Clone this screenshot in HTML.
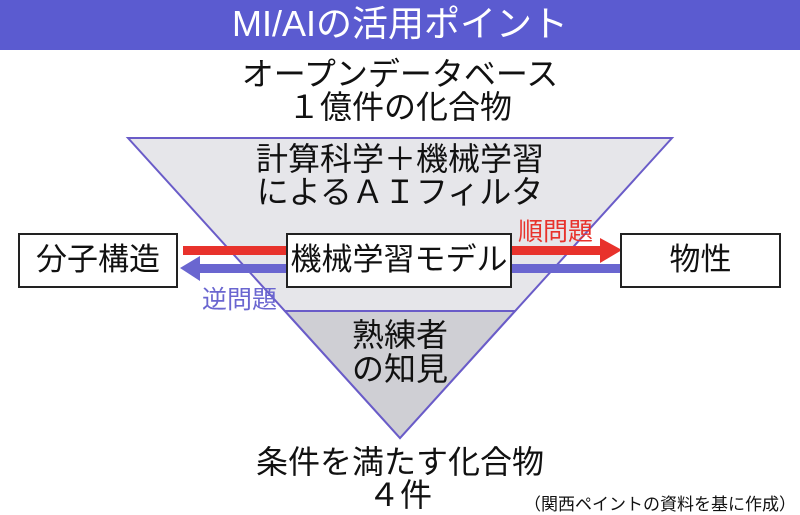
<!DOCTYPE html>
<html><head><meta charset="utf-8"><style>
body{margin:0;width:800px;height:515px;overflow:hidden;background:#fff;position:relative;font-family:"Liberation Sans","Noto Sans CJK JP",sans-serif;}
.t{position:absolute;left:0;width:800px;text-align:center;color:#111;font-size:32px;line-height:34px;}
.box{position:absolute;border:2px solid #222;background:#fff;box-sizing:border-box;text-align:center;font-size:31px;line-height:50px;color:#111;}
</style></head><body>
<div style="position:absolute;left:0;top:0;width:800px;height:50px;background:#5b5bd0;color:#fff;font-size:36px;line-height:48px;text-align:center;">MI/AIの活用ポイント</div>
<svg width="800" height="515" style="position:absolute;left:0;top:0">
<polygon points="128,138 672,138 400,438" fill="#e6e6ea" stroke="#6a5cc8" stroke-width="2"/>
<polygon points="285,311 515,311 400,438" fill="#cfcfd4" stroke="#6a5cc8" stroke-width="2"/>
<rect x="183" y="246" width="420" height="9" fill="#e8322c"/>
<polygon points="600,238 622,250 600,263" fill="#e8322c"/>
<rect x="197" y="264" width="425" height="9" fill="#6a66d0"/>
<polygon points="200,256 180,268 200,281" fill="#6a66d0"/>
</svg>
<div class="t" style="top:57px">オープンデータベース</div>
<div class="t" style="top:90px">１億件の化合物</div>
<div class="t" style="top:142px">計算科学＋機械学習</div>
<div class="t" style="top:175px">によるＡＩフィルタ</div>
<div class="box" style="left:18px;top:233px;width:160px;height:55px">分子構造</div>
<div class="box" style="left:286px;top:233px;width:226px;height:55px">機械学習モデル</div>
<div class="box" style="left:620px;top:233px;width:161px;height:55px">物性</div>
<div style="position:absolute;left:518px;top:212px;font-size:25px;color:#e8322c">順問題</div>
<div style="position:absolute;left:202px;top:280px;font-size:25px;color:#6a66d0">逆問題</div>
<div class="t" style="top:318px">熟練者</div>
<div class="t" style="top:352px">の知見</div>
<div class="t" style="top:445px">条件を満たす化合物</div>
<div class="t" style="top:478px">４件</div>
<div style="position:absolute;right:4px;top:490px;font-size:17px;color:#111">（関西ペイントの資料を基に作成）</div>
</body></html>
